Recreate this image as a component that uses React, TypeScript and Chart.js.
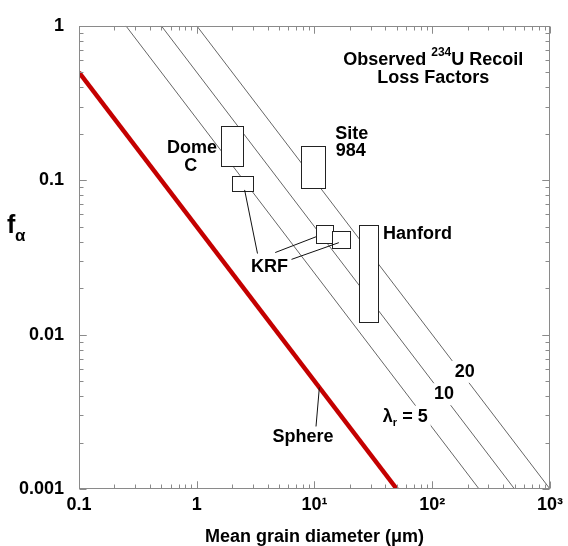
import React, { useEffect, useRef } from 'react';
import { Chart, registerables } from 'chart.js';

Chart.register(...registerables);

// ---------- data ----------
const xTickValues = [0.1, 1, 10, 100, 1000];
const xTickLabels = ['0.1', '1', '10¹', '10²', '10³'];
const yTickValues = [0.001, 0.01, 0.1, 1];
const yTickLabels = ['0.001', '0.01', '0.1', '1'];

// Sphere line (f = 0.05 / d)
const sphereX = [0.1, 50];
const sphereY = [0.5, 0.001];

// lambda_r lines
const lambdaValues = [5, 10, 20];
const lambdaStartX = [0.25, 0.5, 1];
const lambdaStartY = [1, 1, 1];
const lambdaEndX = [250, 500, 1000];
const lambdaEndY = [0.001, 0.001, 0.001];

// observed boxes (grain diameter range x recoil loss factor range)
const boxNames = ['Dome C', 'KRF 1', 'Site 984', 'KRF 2', 'KRF 3', 'Hanford'];
const boxXMin = [1.6, 2.0, 7.7, 10.3, 14.0, 23.7];
const boxXMax = [2.45, 3.0, 12.2, 14.3, 19.9, 34.9];
const boxYMin = [0.124, 0.085, 0.089, 0.0394, 0.0366, 0.0121];
const boxYMax = [0.226, 0.106, 0.167, 0.0512, 0.0469, 0.0512];

const FONT = "'Liberation Sans', Arial, Helvetica, sans-serif";

const annotatePlugin = {
  id: 'annotate',
  afterDatasetsDraw(chart: any) {
    const { ctx, chartArea: ca, scales } = chart;
    const xs = scales.x;
    const ys = scales.y;
    const px = (v: number) => xs.getPixelForValue(v);
    const py = (v: number) => ys.getPixelForValue(v);
    ctx.save();

    // boxes
    ctx.lineWidth = 1;
    ctx.strokeStyle = '#222';
    ctx.fillStyle = '#fff';
    for (let i = 0; i < boxNames.length; i++) {
      const x0 = Math.round(px(boxXMin[i])) + 0.5;
      const x1 = Math.round(px(boxXMax[i])) + 0.5;
      const y0 = Math.round(py(boxYMax[i])) + 0.5;
      const y1 = Math.round(py(boxYMin[i])) + 0.5;
      ctx.fillRect(x0, y0, x1 - x0, y1 - y0);
      ctx.strokeRect(x0, y0, x1 - x0, y1 - y0);
    }

    // KRF connectors
    const connectors = [
      [2.55, 0.0865, 3.28, 0.0335],
      [10.3, 0.043, 4.64, 0.034],
      [16.1, 0.0394, 6.38, 0.0307],
    ];
    ctx.strokeStyle = '#111';
    ctx.lineWidth = 1;
    connectors.forEach(([a, b, c, d]) => {
      ctx.beginPath();
      ctx.moveTo(px(a), py(b));
      ctx.lineTo(px(c), py(d));
      ctx.stroke();
    });

    // text helper
    const text = (s: string, xv: number, yv: number, size = 18, bg = false) => {
      ctx.font = `bold ${size}px ${FONT}`;
      const X = px(xv);
      const Y = py(yv);
      const w = ctx.measureText(s).width;
      if (bg) {
        ctx.fillStyle = '#fff';
        ctx.fillRect(X - w / 2 - 3, Y - size / 2 - 2, w + 6, size + 4);
      }
      ctx.fillStyle = '#000';
      ctx.textAlign = 'center';
      ctx.textBaseline = 'middle';
      ctx.fillText(s, X, Y);
    };

    text('Dome', 0.91, 0.162);
    text('C', 0.89, 0.124);
    text('Site', 20.7, 0.198);
    text('984', 20.3, 0.155);
    text('KRF', 4.14, 0.0273);
    text('Hanford', 75, 0.045);
    text('20', 189, 0.00574, 18, true);
    text('10', 126, 0.00411, 18, true);

    // lambda_r = 5 with subscript
    {
      const X = px(59);
      const Y = py(0.00294);
      ctx.font = `bold 18px ${FONT}`;
      const wL = ctx.measureText('λ').width;
      ctx.font = `bold 11px ${FONT}`;
      const wS = ctx.measureText('r').width;
      ctx.font = `bold 18px ${FONT}`;
      const wR = ctx.measureText(' = 5').width;
      const tot = wL + wS + wR;
      let sx = X - tot / 2;
      ctx.fillStyle = '#fff';
      ctx.fillRect(sx - 3, Y - 11, tot + 6, 24);
      ctx.fillStyle = '#000';
      ctx.textAlign = 'left';
      ctx.textBaseline = 'middle';
      ctx.fillText('λ', sx, Y);
      sx += wL;
      ctx.font = `bold 11px ${FONT}`;
      ctx.fillText('r', sx, Y + 6);
      sx += wS;
      ctx.font = `bold 18px ${FONT}`;
      ctx.fillText(' = 5', sx, Y);
    }

    // Sphere label and pointer
    ctx.strokeStyle = '#111';
    ctx.lineWidth = 1;
    ctx.beginPath();
    ctx.moveTo(px(10.3), py(0.00254));
    ctx.lineTo(px(11.0), py(0.00455));
    ctx.stroke();
    text('Sphere', 8.0, 0.00216);

    // Title
    {
      const cx = px(102);
      const y1 = py(0.6);
      const y2 = py(0.462);
      ctx.font = `bold 18px ${FONT}`;
      const wa = ctx.measureText('Observed ').width;
      const wc = ctx.measureText('U Recoil').width;
      ctx.font = `bold 12px ${FONT}`;
      const wb = ctx.measureText('234').width;
      let sx = cx - (wa + wb + wc) / 2;
      ctx.fillStyle = '#000';
      ctx.textAlign = 'left';
      ctx.textBaseline = 'middle';
      ctx.font = `bold 18px ${FONT}`;
      ctx.fillText('Observed ', sx, y1);
      sx += wa;
      ctx.font = `bold 12px ${FONT}`;
      ctx.fillText('234', sx, y1 - 7);
      sx += wb;
      ctx.font = `bold 18px ${FONT}`;
      ctx.fillText('U Recoil', sx, y1);
      ctx.textAlign = 'center';
      ctx.fillText('Loss Factors', cx, y2);
    }

    // frame
    ctx.strokeStyle = '#8a8a8a';
    ctx.lineWidth = 1;
    const L = Math.round(ca.left) + 0.5;
    const R = Math.round(ca.right) - 0.5;
    const T = Math.round(ca.top) + 0.5;
    const B = Math.round(ca.bottom) - 0.5;
    ctx.strokeRect(L, T, R - L, B - T);

    // ticks (all four sides, inward)
    ctx.beginPath();
    for (let e = -1; e <= 2; e++) {
      for (let m = 1; m <= 10; m++) {
        const v = m * Math.pow(10, e);
        const major = m === 1 || m === 10;
        const len = major ? 7 : 4;
        const X = Math.round(px(v)) + 0.5;
        ctx.moveTo(X, B);
        ctx.lineTo(X, B - len);
        ctx.moveTo(X, T);
        ctx.lineTo(X, T + len);
      }
    }
    for (let e = -3; e <= -1; e++) {
      for (let m = 1; m <= 10; m++) {
        const v = m * Math.pow(10, e);
        const major = m === 1 || m === 10;
        const len = major ? 7 : 4;
        const Y = Math.round(py(v)) + 0.5;
        ctx.moveTo(L, Y);
        ctx.lineTo(L + len, Y);
        ctx.moveTo(R, Y);
        ctx.lineTo(R - len, Y);
      }
    }
    ctx.stroke();

    // y axis title f_alpha
    ctx.fillStyle = '#000';
    ctx.textAlign = 'left';
    ctx.textBaseline = 'alphabetic';
    ctx.font = `bold 25px ${FONT}`;
    ctx.fillText('f', 7, 233);
    ctx.font = `bold 17px ${FONT}`;
    ctx.fillText('α', 15, 241);

    ctx.restore();
  },
};

export default function App() {
  const ref = useRef<HTMLCanvasElement>(null);
  useEffect(() => {
    document.body.style.margin = '0';
    const canvas = ref.current;
    if (!canvas) return;

    const datasets: any[] = [
      {
        label: 'Sphere',
        data: sphereX.map((x, i) => ({ x, y: sphereY[i] })),
        borderColor: '#c40000',
        borderWidth: 4.5,
        pointRadius: 0,
        borderCapStyle: 'butt',
      },
      ...lambdaValues.map((lam, i) => ({
        label: `λr = ${lam}`,
        data: [
          { x: lambdaStartX[i], y: lambdaStartY[i] },
          { x: lambdaEndX[i], y: lambdaEndY[i] },
        ],
        borderColor: '#555',
        borderWidth: 0.9,
        pointRadius: 0,
      })),
    ];

    const chart = new Chart(canvas, {
      type: 'line',
      data: { datasets },
      options: {
        animation: false,
        responsive: false,
        devicePixelRatio: 1,
        layout: { padding: { top: 15, right: 14, left: 0, bottom: 0 } },
        plugins: { legend: { display: false }, tooltip: { enabled: false } },
        scales: {
          x: {
            type: 'logarithmic',
            min: 0.1,
            max: 1000,
            afterBuildTicks: (s: any) => {
              s.ticks = xTickValues.map((v) => ({ value: v }));
            },
            afterFit: (s: any) => {
              s.height = 57;
            },
            grid: { display: false, drawTicks: false },
            border: { display: false },
            ticks: {
              autoSkip: false,
              maxRotation: 0,
              padding: 5,
              color: '#000',
              font: { family: FONT, weight: 'bold', size: 18 },
              callback: (v: any) => {
                const i = xTickValues.indexOf(Number(v));
                return i >= 0 ? xTickLabels[i] : '';
              },
            },
            title: {
              display: true,
              text: 'Mean grain diameter (μm)',
              color: '#000',
              font: { family: FONT, weight: 'bold', size: 18, lineHeight: 1 },
              padding: 0,
            },
          },
          y: {
            type: 'logarithmic',
            min: 0.001,
            max: 1,
            afterBuildTicks: (s: any) => {
              s.ticks = yTickValues.map((v) => ({ value: v }));
            },
            afterFit: (s: any) => {
              s.width = 79;
            },
            grid: { display: false, drawTicks: false },
            border: { display: false },
            ticks: {
              autoSkip: false,
              padding: 15,
              color: '#000',
              font: { family: FONT, weight: 'bold', size: 18 },
              callback: (v: any) => {
                const i = yTickValues.indexOf(Number(v));
                return i >= 0 ? yTickLabels[i] : '';
              },
            },
          },
        },
      } as any,
      plugins: [annotatePlugin],
    });
    return () => chart.destroy();
  }, []);

  return (
    <div style={{ width: 568, height: 546, background: '#fff' }}>
      <canvas ref={ref} width={568} height={546} />
    </div>
  );
}
